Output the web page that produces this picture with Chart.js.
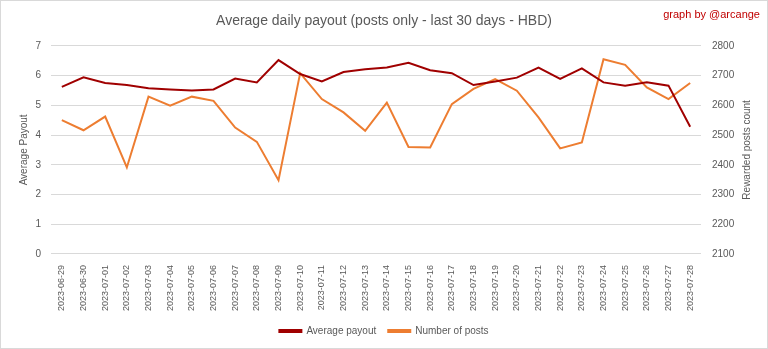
<!DOCTYPE html>
<html>
<head>
<meta charset="utf-8">
<script src="https://cdn.jsdelivr.net/npm/chart.js@4.4.0/dist/chart.umd.min.js"></script>
<style>
  html, body { margin: 0; padding: 0; background: #fff; }
  #wrap { position: relative; width: 766px; height: 347px; border: 1px solid #d9d9d9; }
  #credit { position: absolute; right: 7px; top: 7px; font: 11px "Liberation Sans", Arial, sans-serif; color: #c00000; }
</style>
</head>
<body>
<div id="wrap">
  <canvas id="mycanvas"></canvas>
  <div id="credit">graph by @arcange</div>
</div>
<script>
"use strict";
var days = ['2023-06-29','2023-06-30','2023-07-01','2023-07-02','2023-07-03','2023-07-04','2023-07-05',
  '2023-07-06','2023-07-07','2023-07-08','2023-07-09','2023-07-10','2023-07-11','2023-07-12','2023-07-13',
  '2023-07-14','2023-07-15','2023-07-16','2023-07-17','2023-07-18','2023-07-19','2023-07-20','2023-07-21',
  '2023-07-22','2023-07-23','2023-07-24','2023-07-25','2023-07-26','2023-07-27','2023-07-28'];
var avgPayout = [5.62,5.94,5.75,5.68,5.57,5.53,5.50,5.53,5.90,5.77,6.52,6.05,5.80,6.12,6.21,
  6.27,6.43,6.18,6.08,5.68,5.80,5.93,6.27,5.89,6.24,5.77,5.66,5.77,5.66,4.28];
var postCount = [2550,2516,2562,2391,2629,2599,2629,2615,2525,2477,2348,2708,2621,2576,2514,
  2609,2460,2458,2604,2655,2688,2649,2559,2455,2475,2755,2736,2660,2621,2675];

var grey = '#595959';
var fam = 'Liberation Sans';

// both axis titles read bottom-to-top, so draw them by hand
var axisTitles = {
  id: 'axisTitles',
  afterDraw: function (chart) {
    var c = chart.ctx, a = chart.chartArea;
    var mid = (a.top + a.bottom) / 2;
    c.save();
    c.fillStyle = grey;
    c.font = '10px ' + fam;
    c.textAlign = 'center';
    c.textBaseline = 'middle';
    [[23, 'Average Payout'], [746, 'Rewarded posts count']].forEach(function (t) {
      c.save();
      c.translate(t[0], mid);
      c.rotate(-Math.PI / 2);
      c.fillText(t[1], 0, 0);
      c.restore();
    });
    c.restore();
  }
};

var ctx = document.getElementById('mycanvas');
new Chart(ctx, {
  type: 'line',
  data: {
    labels: days,
    datasets: [
      { label: 'Average payout', data: avgPayout, yAxisID: 'y', borderColor: '#a00000',
        backgroundColor: '#a00000', borderWidth: 2, pointRadius: 0, tension: 0 },
      { label: 'Number of posts', data: postCount, yAxisID: 'y1', borderColor: '#ed7d31',
        backgroundColor: '#ed7d31', borderWidth: 2, pointRadius: 0, tension: 0 }
    ]
  },
  plugins: [axisTitles],
  options: {
    responsive: true,
    maintainAspectRatio: false,
    animation: false,
    layout: { padding: { left: 0, right: 0, top: 0, bottom: 2 } },
    plugins: {
      title: { display: true, text: 'Average daily payout (posts only - last 30 days - HBD)',
        color: grey, font: { family: fam, size: 14, weight: 'normal' }, padding: { top: 12, bottom: 16 } },
      legend: { position: 'bottom', labels: { color: grey, boxWidth: 22, boxHeight: 2,
        font: { family: fam, size: 10 }, padding: 12 } },
      tooltip: { enabled: false }
    },
    scales: {
      x: {
        offset: true,
        grid: { display: false },
        border: { display: false },
        ticks: { color: grey, font: { family: fam, size: 9 }, maxRotation: 90, minRotation: 90, autoSkip: false }
      },
      y: {
        position: 'left', min: 0, max: 7,
        afterFit: function (s) { s.width = 50; },
        grid: { color: '#d9d9d9', drawTicks: false },
        border: { display: false },
        ticks: { stepSize: 1, color: grey, padding: 10, font: { family: fam, size: 10 } }
      },
      y1: {
        position: 'right', min: 2100, max: 2800,
        afterFit: function (s) { s.width = 66; },
        grid: { display: false, drawTicks: false },
        border: { display: false },
        ticks: { stepSize: 100, color: grey, padding: 11, font: { family: fam, size: 10 },
          callback: function (v) { return String(v); } }
      }
    }
  }
});
</script>
</body>
</html>
